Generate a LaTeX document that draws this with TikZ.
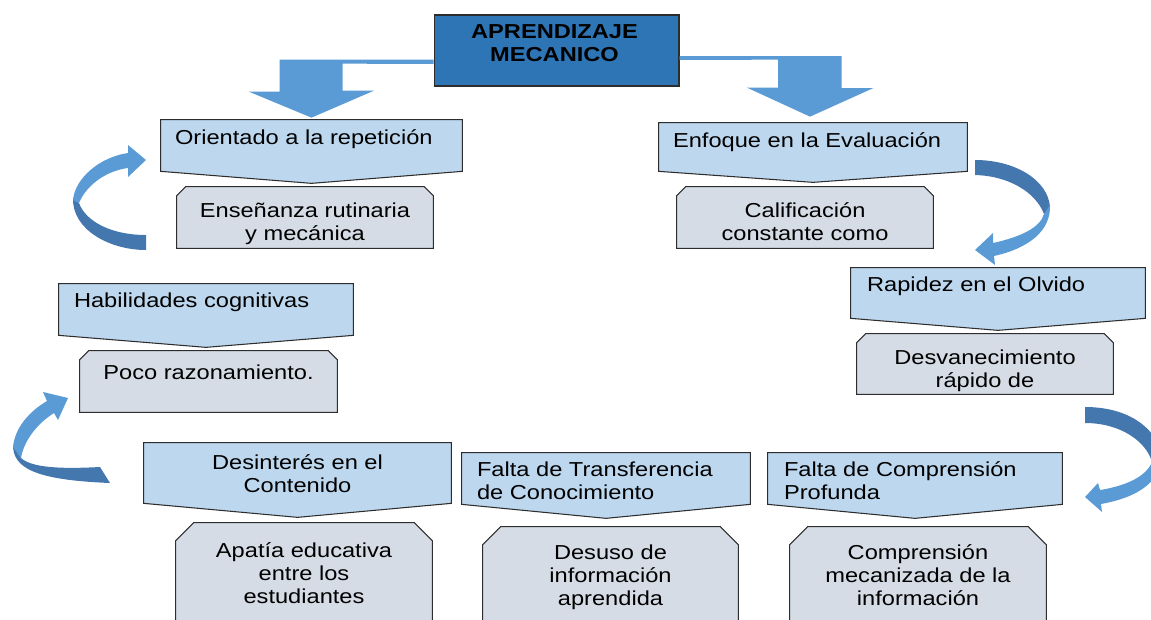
\documentclass[tikz,border=0pt]{standalone}
\usepackage{fontspec}
\setmainfont[FakeStretch=1.17]{Liberation Sans}
\usetikzlibrary{calc}

\definecolor{MainBlue}{RGB}{46,117,182}
\definecolor{ArrowBlue}{RGB}{91,155,213}
\definecolor{ArrowDark}{RGB}{69,119,175}
\definecolor{FlagBlue}{RGB}{189,215,238}
\definecolor{BoxGray}{RGB}{214,220,229}
\definecolor{EdgeGray}{RGB}{45,45,45}

\begin{document}
\begin{tikzpicture}[x=0.02cm, y=-0.02cm,
    holder/.style={rectangle, inner sep=0pt},
    flagbox/.style={fill=FlagBlue, draw=EdgeGray, line width=0.6pt},
    greybox/.style={fill=BoxGray, draw=EdgeGray, line width=0.6pt},
    txt/.style={inner sep=0pt, font=\fontsize{11.5}{13}\selectfont},
    blockarrow/.style={fill=ArrowBlue}]

    \path[use as bounding box] (0,0) rectangle (1151,619);
    \clip (0,0) rectangle (1151,619);

    \node[holder, minimum width=4.9cm, minimum height=1.42cm, fill=MainBlue, draw=EdgeGray, line width=0.6pt] (main) at (556.5,50.5) {};

    \node[holder, minimum width=6.02cm, minimum height=1.02cm] (orient) at (311.5,145.5) {};
    \node[holder, minimum width=6.16cm, minimum height=0.96cm] (enfoque) at (813,147) {};
    \node[holder, minimum width=5.88cm, minimum height=1.0cm] (rapidez) at (998,293) {};
    \node[holder, minimum width=5.88cm, minimum height=1.02cm] (habil) at (206,309.5) {};
    \node[holder, minimum width=6.14cm, minimum height=1.2cm] (desint) at (297.5,473) {};
    \node[holder, minimum width=5.76cm, minimum height=1.02cm] (transf) at (606,478.5) {};
    \node[holder, minimum width=5.88cm, minimum height=1.02cm] (comp) at (915,478.5) {};

    \node[holder, minimum width=5.12cm, minimum height=1.22cm] (ens) at (305,217.5) {};
    \node[holder, minimum width=5.12cm, minimum height=1.22cm] (calif) at (805,217.5) {};
    \node[holder, minimum width=5.12cm, minimum height=1.2cm] (desv) at (985,364) {};
    \node[holder, minimum width=5.14cm, minimum height=1.22cm] (poco) at (208.5,381.5) {};
    \node[holder, minimum width=5.12cm, minimum height=2.34cm] (apatia) at (304,581.5) {};
    \node[holder, minimum width=5.1cm, minimum height=2.26cm] (desuso) at (610.5,583.5) {};
    \node[holder, minimum width=5.12cm, minimum height=2.26cm] (compm) at (918,583.5) {};

    \foreach \n/\d in {orient/12, enfoque/11, rapidez/12, habil/12, desint/14, transf/14, comp/14}
        \draw[flagbox] (\n.north west) -- (\n.north east) -- (\n.south east) -- ($(\n.south)+(0,\d)$) -- (\n.south west) -- cycle;

    \foreach \n/\c in {ens/9, calif/9, desv/9, poco/9, apatia/18, desuso/18, compm/18}
        \draw[greybox] ($(\n.north west)+(0,\c)$) -- ($(\n.north west)+(\c,0)$) -- ($(\n.north east)+(-\c,0)$) -- ($(\n.north east)+(0,\c)$) -- (\n.south east) -- (\n.south west) -- cycle;

    \fill[blockarrow] ($(main.west)+(0,9)$) -- ++(-154,0) -- ++(0,32) -- ++(-31,0) -- ($(orient.north)+(0,-2)$) -- ++(62.5,-27) -- ++(-31.5,0) -- ++(0,-27) -- ($(main.west)+(0,13.5)$) -- cycle;
    \fill[blockarrow] ($(main.east)+(0,5.5)$) -- ++(162,0) -- ++(0,32) -- ++(32,0) -- ($(enfoque.north)+(-3,-6)$) -- ++(-63,-29) -- ++(31,0) -- ++(0,-28) -- ($(main.east)+(0,9.5)$) -- cycle;

    \fill[ArrowDark] (73,198) .. controls (72,230) and (110,250) .. (146,250) -- (146,235) .. controls (112,235) and (86,222) .. (79,203) -- cycle;
    \fill[ArrowBlue] (128,153) .. controls (100,157) and (75,178) .. (73,200) -- (79,203) .. controls (86,186) and (105,171) .. (128,168) -- (128,177) -- (146,160) -- (128,145) -- cycle;

    \fill[ArrowDark] (13,445) .. controls (13,468) and (35,480) .. (110,483) -- (100,467) .. controls (62,469) and (32,468) .. (21,458) -- cycle;
    \fill[ArrowBlue] (47,401) .. controls (30,411) and (15,427) .. (13,447) -- (21,458) .. controls (24,440) and (38,423) .. (54,413) -- (58,420) -- (68,398) -- (43,392) -- cycle;

    \fill[ArrowDark] (975,160) .. controls (1015,160) and (1048,180) .. (1050,207) -- (1044,214) .. controls (1036,193) and (1010,176) .. (975,175) -- cycle;
    \fill[ArrowBlue] (1050,205) .. controls (1051,230) and (1030,248) .. (994,256) -- (995,265) -- (975,250) -- (993,233) -- (993,243) .. controls (1020,237) and (1040,228) .. (1044,214) -- cycle;

    \fill[ArrowDark] (1085,407) .. controls (1125,407) and (1155,425) .. (1162,455) -- (1152,462) .. controls (1146,441) and (1120,423) .. (1085,423) -- cycle;
    \fill[ArrowBlue] (1162,452) .. controls (1163,480) and (1140,497) .. (1101,504) -- (1102,512) -- (1085,497) -- (1098,483) -- (1100,490) .. controls (1125,486) and (1146,477) .. (1152,462) -- cycle;

    \node[txt, font=\fontsize{11.5}{13}\selectfont\bfseries, align=center, anchor=north] (main-t) at ($(main.north)+(-2,10)$) {APRENDIZAJE\\MECANICO};

    \node[txt, anchor=north west] (orient-t) at ($(orient.north west)+(14,10)$) {Orientado a la repetición};
    \node[txt, anchor=north west] (enfoque-t) at ($(enfoque.north west)+(14,10)$) {Enfoque en la Evaluación};
    \node[txt, anchor=north west] (rapidez-t) at ($(rapidez.north west)+(16,9)$) {Rapidez en el Olvido};
    \node[txt, anchor=north west] (habil-t) at ($(habil.north west)+(15,9)$) {Habilidades cognitivas};
    \node[txt, align=center, anchor=north] (desint-t) at ($(desint.north)+(0,12)$) {Desinterés en el\\Contenido};
    \node[txt, align=left, anchor=north west] (transf-t) at ($(transf.north west)+(15,9)$) {Falta de Transferencia\\de Conocimiento};
    \node[txt, align=left, anchor=north west] (comp-t) at ($(comp.north west)+(16,9)$) {Falta de Comprensión\\Profunda};

    \node[txt, align=center, anchor=north] (ens-t) at ($(ens.north)+(0,16)$) {Enseñanza rutinaria\\y mecánica};
    \node[txt, align=center, anchor=north] (calif-t) at ($(calif.north)+(0,16)$) {Calificación\\constante como};
    \node[txt, align=center, anchor=north] (desv-t) at ($(desv.north)+(0,16)$) {Desvanecimiento\\rápido de};
    \node[txt, align=center, anchor=north] (poco-t) at ($(poco.north)+(0,14)$) {Poco razonamiento.};
    \node[txt, align=center, anchor=north] (apatia-t) at ($(apatia.north)+(0,20)$) {Apatía educativa\\entre los\\estudiantes};
    \node[txt, align=center, anchor=north] (desuso-t) at ($(desuso.north)+(0,18)$) {Desuso de\\información\\aprendida};
    \node[txt, align=center, anchor=north] (compm-t) at ($(compm.north)+(0,18)$) {Comprensión\\mecanizada de la\\información};

\end{tikzpicture}
\end{document}
